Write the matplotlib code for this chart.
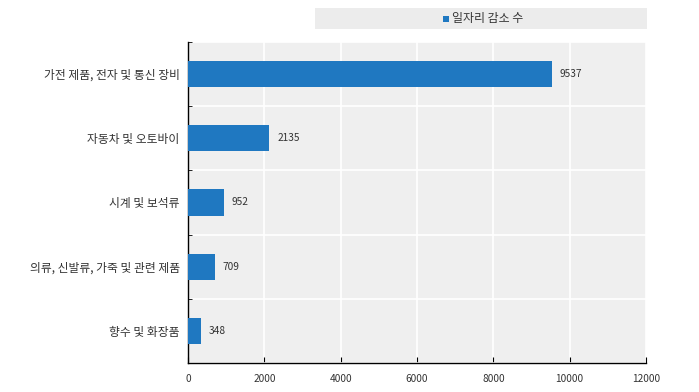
import matplotlib.pyplot as plt
from matplotlib.patches import Rectangle
from matplotlib.ticker import MultipleLocator

plt.rcParams['font.family'] = ['Noto Sans CJK KR', 'DejaVu Sans']

# 데이터
categories = ['가전 제품, 전자 및 통신 장비', '자동차 및 오토바이', '시계 및 보석류',
              '의류, 신발류, 가죽 및 관련 제품', '향수 및 화장품']
values = [9537, 2135, 952, 709, 348]
series_name = '일자리 감소 수'

bar_color = '#1f78c1'
text_color = '#333333'

fig = plt.figure(figsize=(6.99, 3.92), dpi=100)
ax = fig.add_axes([188/699, 29/392, (646-188)/699, (363-42)/392])
ax.set_facecolor('#efefef')

ypos = list(range(len(categories)))
ax.barh(ypos, values, height=0.41, color=bar_color, zorder=3)
for y, v in zip(ypos, values):
    ax.text(v + 200, y, str(v), va='center', ha='left', fontsize=7.3, color=text_color, zorder=4)

ax.set_ylim(len(categories) - 0.5, -0.5)
ax.set_xlim(0, 12000)
ax.set_yticks(ypos)
ax.set_yticklabels(categories, fontsize=8.5, color=text_color)
ax.yaxis.set_minor_locator(MultipleLocator(1, offset=0.5))
ax.xaxis.set_major_locator(MultipleLocator(2000))
ax.tick_params(axis='x', labelsize=7.3, colors=text_color, direction='in', length=4, pad=8)
ax.tick_params(axis='x', which='both', color='black')
ax.tick_params(axis='y', which='major', length=0, pad=6)
ax.tick_params(axis='y', which='minor', direction='in', length=3, color='black')

ax.grid(axis='x', color='white', linewidth=1.2, zorder=1)
ax.grid(axis='y', which='minor', color='white', linewidth=1.2, zorder=1)
ax.set_axisbelow(True)

for s in ['top', 'right']:
    ax.spines[s].set_visible(False)
for s in ['left', 'bottom']:
    ax.spines[s].set_color('black')
    ax.spines[s].set_linewidth(1.0)

# 범례 상자
fig.patches.append(Rectangle((315/699, (392-29)/392), (647-315)/699, 21/392,
                             transform=fig.transFigure, facecolor='#ececec',
                             edgecolor='none'))
fig.patches.append(Rectangle((443/699, (392-22)/392), 6/699, 6/392,
                             transform=fig.transFigure, facecolor=bar_color,
                             edgecolor='none'))
fig.text(452/699, (392-18.5)/392, series_name, fontsize=8.6, color=text_color,
         va='center', ha='left')

fig.savefig('out.png', dpi=100)
